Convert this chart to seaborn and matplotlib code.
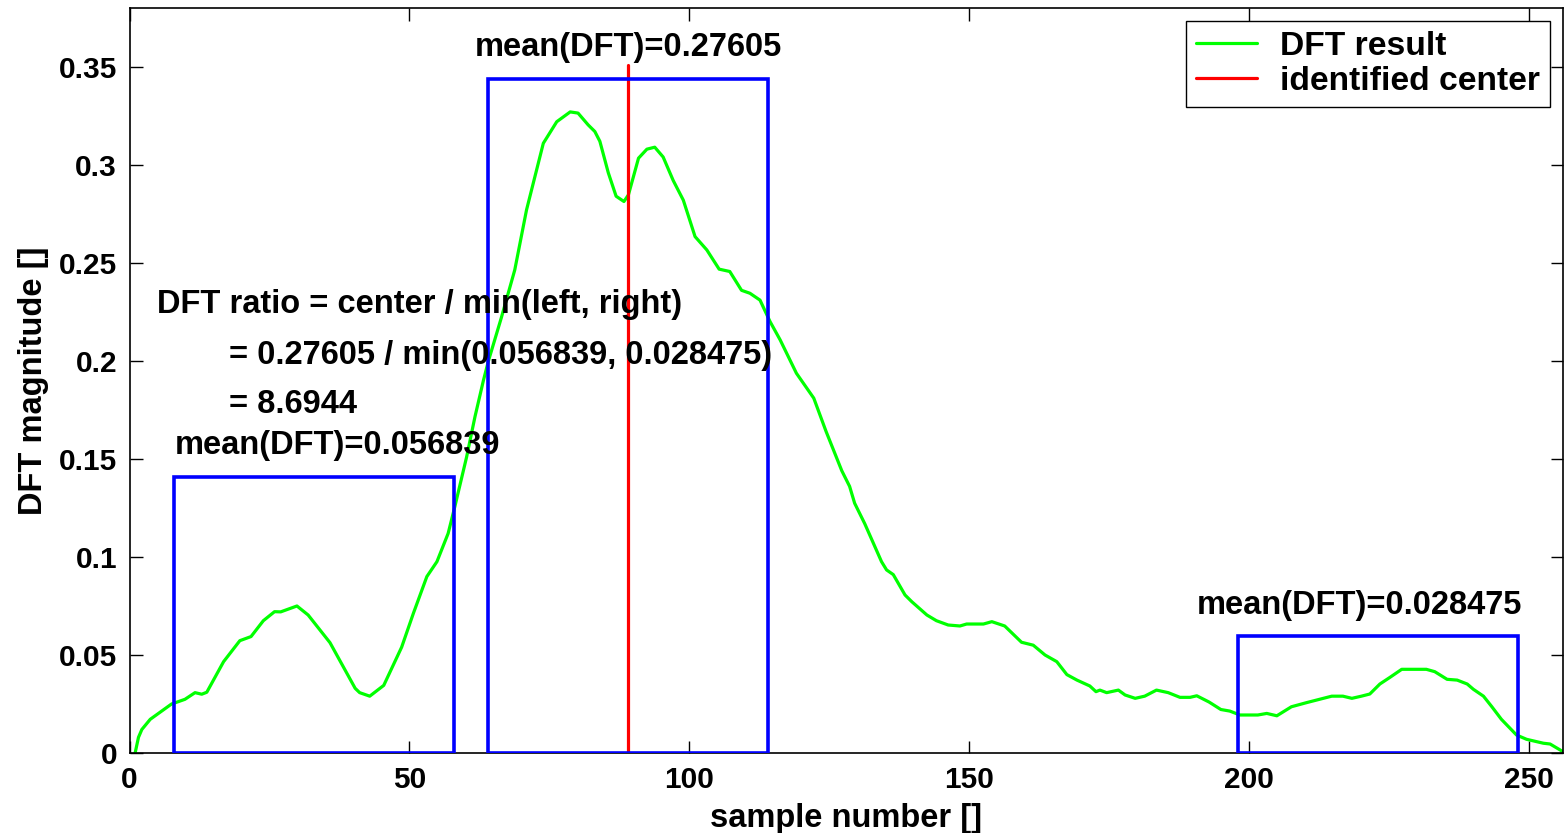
import matplotlib
matplotlib.use("Agg")
import matplotlib.pyplot as plt
from matplotlib.patches import Rectangle
import seaborn as sns
import pandas as pd

# ---- data ----
sample = [1.0, 1.6, 2.2, 3.7, 7.5, 9.9, 11.7, 12.9, 13.8, 15.0, 16.8, 19.7, 21.7, 23.9, 25.9,
          27.0, 29.9, 31.9, 35.8, 38.5, 40.3, 41.1, 42.9, 45.4, 48.6, 50.7, 53.1, 54.9, 56.9,
          58.1, 60.2, 61.7, 63.2, 64.1, 66.4, 68.8, 70.9, 73.9, 76.3, 78.7, 80.1, 81.9, 83.1,
          84.0, 85.5, 86.9, 88.3, 89.1, 90.9, 92.4, 93.8, 95.3, 97.1, 98.9, 101.0, 103.1,
          105.3, 107.2, 109.3, 110.8, 112.6, 114.4, 116.2, 119.1, 122.2, 124.4, 127.2, 128.6,
          129.5, 131.3, 134.3, 135.2, 136.4, 138.5, 139.7, 142.4, 144.1, 146.2, 148.3, 149.5,
          152.5, 154.0, 156.3, 159.3, 161.4, 163.5, 165.6, 167.4, 169.2, 171.5, 172.6, 173.3,
          174.5, 176.6, 177.8, 179.6, 181.3, 183.4, 185.5, 187.6, 189.4, 190.6, 192.8, 194.9,
          196.5, 198.3, 201.5, 203.1, 204.9, 207.5, 210.2, 214.7, 216.7, 218.3, 220.0, 221.5,
          223.3, 225.1, 227.2, 231.6, 233.1, 235.3, 237.1, 238.9, 240.0, 241.8, 243.3, 245.0,
          247.7, 249.5, 252.5, 253.7, 256.0]
dft = [0.0, 0.008, 0.012, 0.0172, 0.025, 0.0274, 0.0308, 0.030, 0.031, 0.0372, 0.0466, 0.0573,
       0.0594, 0.0675, 0.0721, 0.072, 0.075, 0.0704, 0.0563, 0.0423, 0.033, 0.0308, 0.029,
       0.0345, 0.054, 0.0713, 0.090, 0.0976, 0.112, 0.1257, 0.151, 0.1716, 0.190, 0.200, 0.222,
       0.2464, 0.277, 0.311, 0.322, 0.327, 0.3264, 0.3204, 0.317, 0.312, 0.296, 0.284, 0.2813,
       0.2847, 0.3034, 0.308, 0.309, 0.304, 0.292, 0.282, 0.2634, 0.2566, 0.2468, 0.2456,
       0.236, 0.2345, 0.231, 0.220, 0.2107, 0.1937, 0.181, 0.164, 0.144, 0.136, 0.1274, 0.117,
       0.0976, 0.0934, 0.091, 0.0806, 0.0772, 0.0704, 0.0675, 0.0653, 0.0648, 0.0658, 0.0658,
       0.067, 0.0648, 0.0565, 0.055, 0.050, 0.0466, 0.040, 0.0372, 0.0342, 0.0313, 0.0321,
       0.0308, 0.0321, 0.0296, 0.0279, 0.029, 0.0321, 0.0308, 0.0284, 0.0284, 0.0292, 0.026,
       0.0222, 0.0214, 0.0194, 0.0194, 0.0202, 0.019, 0.0236, 0.0257, 0.029, 0.029, 0.0279,
       0.029, 0.0301, 0.0352, 0.0386, 0.0427, 0.0427, 0.0415, 0.0376, 0.0372, 0.0352, 0.0325,
       0.029, 0.0236, 0.0172, 0.0092, 0.007, 0.005, 0.0046, 0.0007]

center_x = [89, 89]
center_y = [0.0, 0.351]

box_left = [8, 64, 198]
box_right = [58, 114, 248]
box_height = [0.141, 0.344, 0.0597]
box_labels = ["mean(DFT)=0.056839", "mean(DFT)=0.27605", "mean(DFT)=0.028475"]
label_pos = [(8.1, 0.157), (61.7, 0.3597), (190.6, 0.0755)]

ratio_lines = ["DFT ratio = center / min(left, right)",
               "= 0.27605 / min(0.056839, 0.028475)",
               "= 8.6944"]
ratio_pos = [(4.9, 0.2286), (17.8, 0.203), (17.8, 0.1776)]

xticks = [0, 50, 100, 150, 200, 250]
yticks = [0, 0.05, 0.1, 0.15, 0.2, 0.25, 0.3, 0.35]
yticklabels = ["0", "0.05", "0.1", "0.15", "0.2", "0.25", "0.3", "0.35"]

# ---- style ----
sns.set_style("ticks")
plt.rcParams["font.family"] = ["Liberation Sans", "DejaVu Sans"]
plt.rcParams["font.weight"] = "bold"
plt.rcParams["text.color"] = "black"
plt.rcParams["axes.labelcolor"] = "black"
plt.rcParams["xtick.color"] = "black"
plt.rcParams["ytick.color"] = "black"

fig = plt.figure(figsize=(15.68, 8.33), dpi=100)
ax = fig.add_axes([0.0826, 0.096, 0.9142, 0.8944])

df = pd.DataFrame({"sample": sample, "dft": dft})
sns.lineplot(data=df, x="sample", y="dft", ax=ax, color=(0, 1, 0), lw=2.3,
             label="DFT result", sort=False, estimator=None)
sns.lineplot(x=center_x, y=center_y, ax=ax, color=(1, 0, 0), lw=2.3,
             label="identified center", sort=False, estimator=None)

for l, r, h in zip(box_left, box_right, box_height):
    ax.add_patch(Rectangle((l, 0), r - l, h, fill=False, edgecolor=(0, 0, 1), lw=2.6,
                           zorder=3))

fs = 23.5
tfs = 21.5
for t, (x, y) in zip(box_labels, label_pos):
    ax.text(x, y, t, fontsize=fs, fontweight="bold", ha="left", va="center", color="black")
for t, (x, y) in zip(ratio_lines, ratio_pos):
    ax.text(x, y, t, fontsize=fs, fontweight="bold", ha="left", va="center", color="black")

ax.set_xlim(0, 256)
ax.set_ylim(0, 0.38)
ax.set_xticks(xticks)
ax.set_xticklabels([str(v) for v in xticks])
ax.set_yticks(yticks)
ax.set_yticklabels(yticklabels)
ax.tick_params(direction="in", length=9, width=1.0, top=True, right=True,
               labelsize=tfs, pad=9, colors="black")
for lab in ax.get_xticklabels() + ax.get_yticklabels():
    lab.set_fontweight("bold")
for s in ax.spines.values():
    s.set_visible(True)
    s.set_linewidth(1.2)
    s.set_color("black")

ax.set_xlabel("sample number []", fontsize=fs, fontweight="bold", labelpad=7)
ax.set_ylabel("DFT magnitude []", fontsize=fs, fontweight="bold", labelpad=7)

leg = ax.legend(loc="upper right", fontsize=24.2, frameon=True, fancybox=False,
                edgecolor="black", framealpha=1, handlelength=1.8, handletextpad=0.7,
                borderpad=0.3, borderaxespad=0.38, labelspacing=0.13)
leg.get_frame().set_linewidth(1.0)
for t in leg.get_texts():
    t.set_fontweight("bold")
    t.set_color("black")

fig.savefig("out.png", dpi=100)
